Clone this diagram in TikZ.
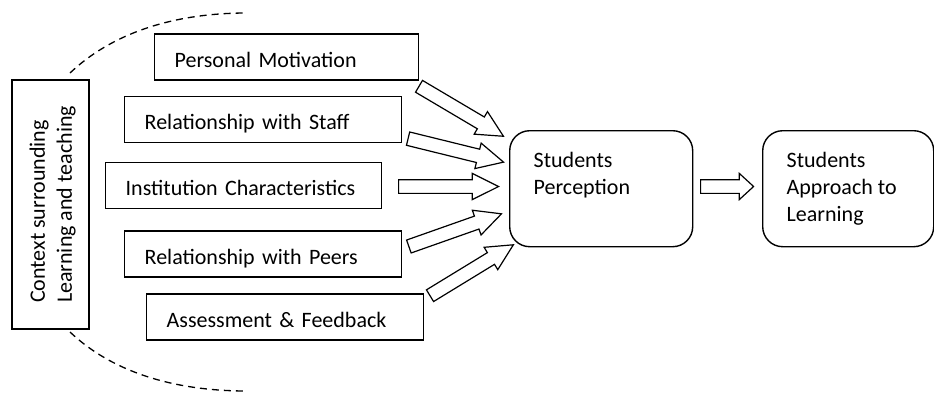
\documentclass[tikz,border=0pt]{standalone}
\usepackage{fontspec}
\setmainfont{Carlito}
\usetikzlibrary{shapes.arrows,calc}

\begin{document}
\begin{tikzpicture}[x=1pt,y=-1pt]
		\tikzstyle{every node}=[font=\fontsize{22pt}{27pt}\selectfont]
		\tikzstyle{facteur}=[draw,line width=1.4pt,anchor=west,minimum height=46,inner xsep=20pt,align=left,text height=21pt,text depth=1pt]
		\tikzstyle{boite}=[draw,line width=1.4pt,rounded corners=20pt,anchor=north west,inner xsep=24pt,inner ysep=0pt]
		\tikzstyle{fleche}=[draw,line width=1.2pt,single arrow,single arrow head extend=6.25pt,single arrow tip angle=53,inner xsep=0pt,inner ysep=6.25pt,anchor=tail]
		\tikzstyle{courte}=[single arrow tip angle=85]
		\tikzstyle{contour}=[line width=1.3pt,dash pattern=on 7pt off 5pt]
		
		\def\LargeurFacteur{237pt}
		\def\BlocFleche[#1]#2#3{\path let \p1=($(#3)-(#2)$), \n1={atan2(\y1,\x1)}, \n2={veclen(\x1,\y1)} in node[fleche,#1,minimum height=\n2,rotate=\n1] at (#2) {};}
		
		\useasboundingbox (0,0) rectangle (934,392);
		
		% contexte
		\node[draw,line width=1.4pt,minimum width=77,minimum height=249,inner sep=0pt] (ctx) at (50.5,204.5)
			{\hspace*{5pt}\rotatebox{90}{\begin{tabular}{@{}l@{}}Context surrounding\\Learning and teaching\end{tabular}}};
		\coordinate (hautA) at (70,73);
		\coordinate (hautB) at (247,13);
		\coordinate (basA) at (70,332);
		\coordinate (basB) at (247,391);
		\draw[contour] (hautA) .. controls (110,35) and (170,13) .. (hautB);
		\draw[contour] (basA) .. controls (110,370) and (170,391) .. (basB);
		
		% facteurs
		\node[facteur,text width=224pt] (pm) at (154,57) {Personal Motivation};
		\node[facteur,text width=\LargeurFacteur] (rs) at (124,119.5) {Relationship with Staff};
		\node[facteur,text width=236pt] (ic) at (105,185.5) {Institution Characteristics};
		\node[facteur,text width=\LargeurFacteur] (rp) at (124,254) {Relationship with Peers};
		\node[facteur,text width=\LargeurFacteur] (af) at (146,317) {Assessment \& Feedback};
		
		% perception et approche
		\node[boite] (sp) at (509,130) {\parbox[c][116pt][t]{135pt}{\rule{0pt}{37pt}Students\\Perception}};
		\node[boite] (sa) at (762,130) {\parbox[c][116pt][t]{123pt}{\rule{0pt}{37pt}Students\\Approach to\\Learning}};
		
		% fleches
		\coordinate (q1) at (418.5,86);   \coordinate (p1) at (503,136);
		\coordinate (q2) at (407.5,138.5); \coordinate (p2) at (503,162);
		\coordinate (q3) at (398,186.5);  \coordinate (p3) at (498,186.5);
		\coordinate (q4) at (408.3,246.7); \coordinate (p4) at (501,214);
		\coordinate (q5) at (429.5,296);  \coordinate (p5) at (513,245);
		\coordinate (q6) at (700,186.5);  \coordinate (p6) at (753,186.5);
		
		\BlocFleche[]{q1}{p1}
		\BlocFleche[]{q2}{p2}
		\BlocFleche[]{q3}{p3}
		\BlocFleche[]{q4}{p4}
		\BlocFleche[]{q5}{p5}
		\BlocFleche[courte]{q6}{p6}
		\end{tikzpicture}
\end{document}
